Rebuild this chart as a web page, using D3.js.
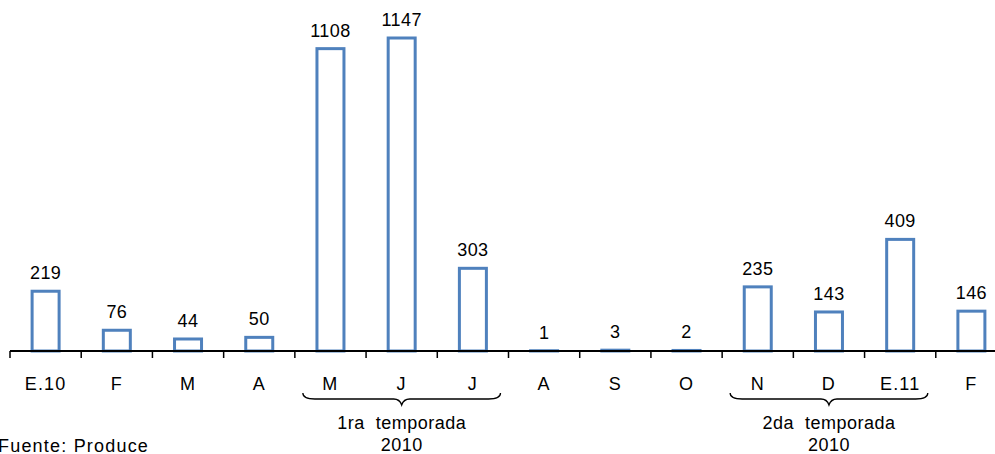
<!DOCTYPE html>
<html>
<head>
<meta charset="utf-8">
<script src="https://cdn.jsdelivr.net/npm/d3@7"></script>
<style>
  body { margin: 0; background: #fff; }
  svg { font-family: "Liberation Sans", Arial, sans-serif; }
</style>
</head>
<body>
<svg id="chart" width="995" height="454"></svg>
<script>
const months = ["E.10", "F", "M", "A", "M", "J", "J", "A", "S", "O", "N", "D", "E.11", "F"];
const values = [219, 76, 44, 50, 1108, 1147, 303, 1, 3, 2, 235, 143, 409, 146];
const seasons = [
  { from: 4, to: 6, line1: "1ra  temporada", line2: "2010" },
  { from: 10, to: 12, line1: "2da  temporada", line2: "2010" }
];
const source = "Fuente: Produce";

const svg = d3.select("#chart");
const BASE_Y = 351;
const X0 = 10, X1 = 1007;
const BLUE = "#4F81BD";

const keys = months.map((m, i) => i);
const xScale = d3.scaleBand().domain(keys).range([X0, X1]).paddingInner(0).paddingOuter(0);
const yScale = d3.scaleLinear().domain([0, 1147]).range([BASE_Y, 38]);
const BAR_W = 27;

// bars
svg.selectAll("rect.bar")
   .data(values)
   .enter()
   .append("rect")
   .attr("class", "bar")
   .attr("x", (d, i) => xScale(i) + (xScale.bandwidth() - BAR_W) / 2)
   .attr("y", d => yScale(d))
   .attr("width", BAR_W)
   .attr("height", d => BASE_Y - yScale(d))
   .attr("fill", "#fff")
   .attr("stroke", BLUE)
   .attr("stroke-width", 3);

// value labels
svg.selectAll("text.val")
   .data(values)
   .enter()
   .append("text")
   .attr("class", "val")
   .attr("x", (d, i) => xScale(i) + xScale.bandwidth() / 2)
   .attr("y", d => yScale(d) - 12)
   .attr("text-anchor", "middle")
   .attr("font-size", 18)
   .attr("letter-spacing", 0.4)
   .attr("fill", "#000")
   .text(d => d);

// axis line and ticks
svg.append("line")
   .attr("x1", X0).attr("x2", X1)
   .attr("y1", BASE_Y).attr("y2", BASE_Y)
   .attr("stroke", "#000").attr("stroke-width", 2);

const boundaries = keys.map(i => xScale(i));
svg.selectAll("line.tick")
   .data(boundaries)
   .enter()
   .append("line")
   .attr("class", "tick")
   .attr("x1", d => d).attr("x2", d => d)
   .attr("y1", BASE_Y).attr("y2", BASE_Y + 7)
   .attr("stroke", "#000").attr("stroke-width", 1.5);

// month labels
svg.selectAll("text.month")
   .data(months)
   .enter()
   .append("text")
   .attr("class", "month")
   .attr("x", (d, i) => xScale(i) + xScale.bandwidth() / 2)
   .attr("y", 390)
   .attr("text-anchor", "middle")
   .attr("font-size", 18)
   .attr("letter-spacing", 1.2)
   .attr("fill", "#000")
   .text(d => d);

// season braces
seasons.forEach(s => {
  const left = xScale(s.from) + 8;
  const right = xScale(s.to) + xScale.bandwidth() - 8;
  const mid = (left + right) / 2;
  const top = 393, flat = 399, tip = 405;
  const path = `M${left},${top} Q${left},${flat} ${left + 12},${flat}` +
               ` L${mid - 8},${flat} Q${mid - 2},${flat} ${mid},${tip}` +
               ` Q${mid + 2},${flat} ${mid + 8},${flat}` +
               ` L${right - 12},${flat} Q${right},${flat} ${right},${top}`;
  svg.append("path")
     .attr("d", path)
     .attr("fill", "none")
     .attr("stroke", "#000")
     .attr("stroke-width", 1.3);
  svg.append("text")
     .attr("x", mid).attr("y", 429)
     .attr("text-anchor", "middle")
     .attr("font-size", 18)
     .attr("letter-spacing", 0.5)
     .style("white-space", "pre")
     .text(s.line1);
  svg.append("text")
     .attr("x", mid).attr("y", 451)
     .attr("text-anchor", "middle")
     .attr("font-size", 18)
     .attr("letter-spacing", 0.5)
     .text(s.line2);
});

// source
svg.append("text")
   .attr("x", -2).attr("y", 452)
   .attr("font-size", 18)
   .attr("letter-spacing", 1.2)
   .attr("fill", "#000")
   .text(source);
</script>
</body>
</html>
